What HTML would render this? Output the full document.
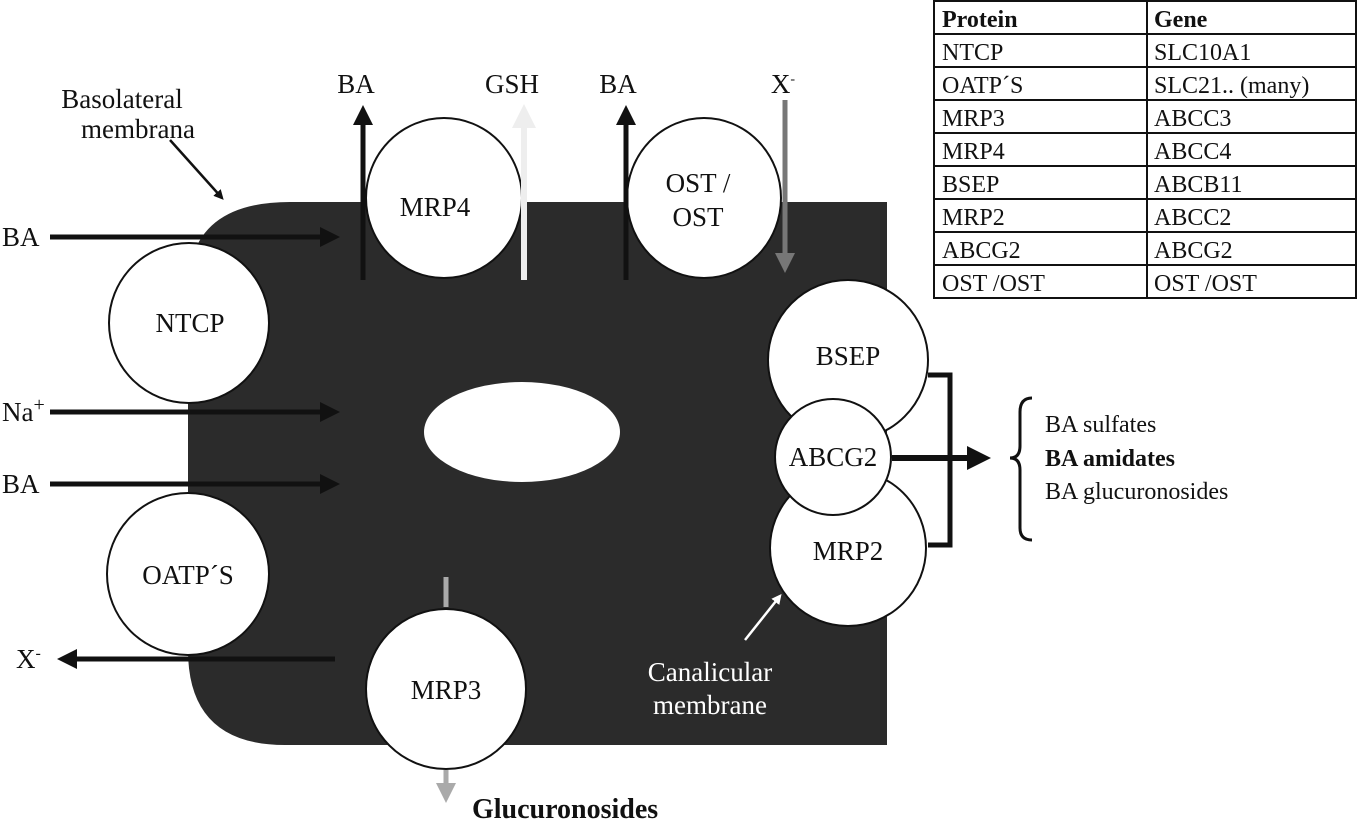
<!DOCTYPE html>
<html><head><style>
html,body{margin:0;padding:0;background:#fff;}
svg{display:block;font-family:"Liberation Serif",serif;}
</style></head><body>
<svg width="1360" height="828" viewBox="0 0 1360 828" xmlns="http://www.w3.org/2000/svg">
<defs>
<marker id="ab" markerWidth="4" markerHeight="4" refX="3" refY="2" orient="auto" markerUnits="strokeWidth"><path d="M0,0 L4,2 L0,4 z" fill="#111"/></marker>
<marker id="ag" markerWidth="4" markerHeight="4" refX="3" refY="2" orient="auto" markerUnits="strokeWidth"><path d="M0,0 L4,2 L0,4 z" fill="#777"/></marker>
<marker id="al" markerWidth="4" markerHeight="4" refX="3" refY="2" orient="auto" markerUnits="strokeWidth"><path d="M0,0 L4,2 L0,4 z" fill="#eee"/></marker>
<marker id="aw" markerWidth="4" markerHeight="4" refX="3" refY="2" orient="auto" markerUnits="strokeWidth"><path d="M0,0 L4,2 L0,4 z" fill="#fff"/></marker>
<marker id="ag2" markerWidth="4" markerHeight="4" refX="3" refY="2" orient="auto" markerUnits="strokeWidth"><path d="M0,0 L4,2 L0,4 z" fill="#aaa"/></marker>
</defs>
<path d="M290,202 L887,202 L887,745 L285,745 Q188,745 188,650 L188,290 Q188,202 290,202 Z" fill="#2b2b2b"/>
<ellipse cx="522" cy="432" rx="98" ry="50" fill="#fff"/>
<g fill="#fff" stroke="#111" stroke-width="2">
<ellipse cx="444" cy="198" rx="78" ry="80"/>
<ellipse cx="704" cy="198" rx="77" ry="80"/>
<circle cx="189" cy="323" r="80"/>
<circle cx="188" cy="574" r="81"/>
<circle cx="446" cy="689" r="80"/>
<circle cx="848" cy="360" r="80"/>
<circle cx="848" cy="548" r="78"/>
<circle cx="833" cy="457" r="58"/>
</g>
<g stroke-width="5" fill="none">
<line x1="50" y1="237" x2="335" y2="237" stroke="#111" marker-end="url(#ab)"/>
<line x1="50" y1="412" x2="335" y2="412" stroke="#111" marker-end="url(#ab)"/>
<line x1="50" y1="484" x2="335" y2="484" stroke="#111" marker-end="url(#ab)"/>
<line x1="335" y1="659" x2="62" y2="659" stroke="#111" marker-end="url(#ab)"/>
<line x1="363" y1="280" x2="363" y2="110" stroke="#111" marker-end="url(#ab)"/>
<line x1="626" y1="280" x2="626" y2="110" stroke="#111" marker-end="url(#ab)"/>
<line x1="524" y1="280" x2="524" y2="110" stroke="#eee" stroke-width="6" marker-end="url(#al)"/>
<line x1="785" y1="100" x2="785" y2="268" stroke="#777" marker-end="url(#ag)"/>
<line x1="446" y1="577" x2="446" y2="607" stroke="#aaa"/>
<line x1="446" y1="770" x2="446" y2="798" stroke="#aaa" marker-end="url(#ag2)"/>
<line x1="170" y1="140" x2="222" y2="198" stroke="#111" stroke-width="2.5" marker-end="url(#ab)"/>
<line x1="745" y1="640" x2="780" y2="596" stroke="#fff" stroke-width="2.5" marker-end="url(#aw)"/>
<polyline points="928,375 950,375 950,545 928,545" stroke="#111"/>
<line x1="892" y1="458" x2="985" y2="458" stroke="#111" stroke-width="6" marker-end="url(#ab)"/>
<path d="M1032,398 Q1020,398 1020,412 L1020,446 Q1020,458 1010,458 Q1020,458 1020,470 L1020,528 Q1020,540 1032,540" stroke="#111" stroke-width="3"/>
</g>
<g font-size="27" fill="#111" text-anchor="middle">
<text x="435" y="216">MRP4</text>
<text x="698" y="192">OST  /</text>
<text x="698" y="226">OST</text>
<text x="190" y="332">NTCP</text>
<text x="188" y="584">OATP´S</text>
<text x="446" y="699">MRP3</text>
<text x="848" y="365">BSEP</text>
<text x="833" y="466">ABCG2</text>
<text x="848" y="560">MRP2</text>
<text x="356" y="93">BA</text>
<text x="512" y="93">GSH</text>
<text x="618" y="93">BA</text>
<text x="783" y="93">X<tspan font-size="14" dy="-10">-</tspan></text>
<text x="122" y="108">Basolateral</text>
<text x="138" y="138">membrana</text>
<text x="710" y="681" fill="#fff">Canalicular</text>
<text x="710" y="714" fill="#fff">membrane</text>
</g>
<g font-size="27" fill="#111">
<text x="2" y="246">BA</text>
<text x="2" y="421">Na<tspan font-size="20" dy="-10">+</tspan></text>
<text x="2" y="493">BA</text>
<text x="16" y="668">X<tspan font-size="16" dy="-10">-</tspan></text>
<text x="472" y="818" font-weight="bold" font-size="28">Glucuronosides</text>
</g>
<g font-size="24" fill="#111">
<text x="1045" y="432">BA sulfates</text>
<text x="1045" y="466" font-weight="bold">BA amidates</text>
<text x="1045" y="499">BA glucuronosides</text>
</g>
<g stroke="#111" stroke-width="2" fill="none">
<rect x="934" y="1" width="422" height="297"/>
<line x1="1147" y1="1" x2="1147" y2="298"/>
<line x1="934" y1="34" x2="1356" y2="34"/>
<line x1="934" y1="67" x2="1356" y2="67"/>
<line x1="934" y1="100" x2="1356" y2="100"/>
<line x1="934" y1="133" x2="1356" y2="133"/>
<line x1="934" y1="166" x2="1356" y2="166"/>
<line x1="934" y1="199" x2="1356" y2="199"/>
<line x1="934" y1="232" x2="1356" y2="232"/>
<line x1="934" y1="265" x2="1356" y2="265"/>
</g>
<g font-size="24" fill="#111">
<text x="942" y="27" font-weight="bold">Protein</text><text x="1154" y="27" font-weight="bold">Gene</text>
<text x="942" y="60">NTCP</text><text x="1154" y="60">SLC10A1</text>
<text x="942" y="93">OATP´S</text><text x="1154" y="93">SLC21.. (many)</text>
<text x="942" y="126">MRP3</text><text x="1154" y="126">ABCC3</text>
<text x="942" y="159">MRP4</text><text x="1154" y="159">ABCC4</text>
<text x="942" y="192">BSEP</text><text x="1154" y="192">ABCB11</text>
<text x="942" y="225">MRP2</text><text x="1154" y="225">ABCC2</text>
<text x="942" y="258">ABCG2</text><text x="1154" y="258">ABCG2</text>
<text x="942" y="291">OST  /OST</text><text x="1154" y="291">OST  /OST</text>
</g>
</svg>
</body></html>
